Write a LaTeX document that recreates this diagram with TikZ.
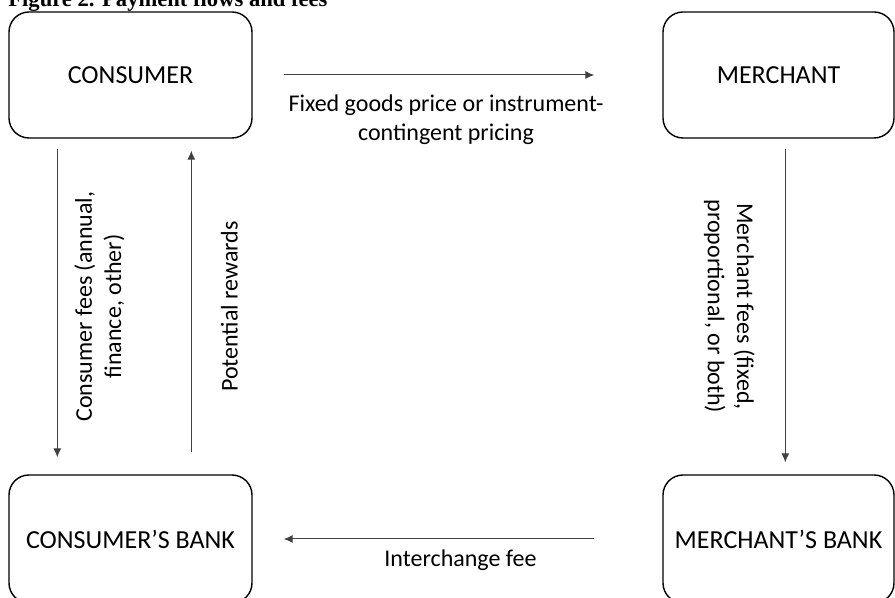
\documentclass[tikz,border=0pt]{standalone}
\usepackage{fontspec}
\setmainfont{Carlito}
\newfontfamily\titlefont{Liberation Serif}
\usepackage{tikz}
\usetikzlibrary{positioning}
\usetikzlibrary{arrows.meta}

\begin{document}
\begin{tikzpicture}
                    [
                    x=0.5pt, y=-0.5pt,
                    party/.style={shape = rectangle, draw, rounded corners=10pt, line width=0.7pt, inner sep=0pt, font=\fontsize{13}{15}\selectfont},
                    flow/.style={-{Latex[length=4.5pt,width=4pt]}, draw=black!75, line width=0.5pt},
                    lbl/.style={align=center, inner sep=0pt, font=\fontsize{12}{14.6}\selectfont},
                    ]
                    \useasboundingbox (0,0) rectangle (895,598);
                    % % 标题
                    \node[anchor=base west, inner sep=0pt, font=\titlefont\bfseries\fontsize{11.3}{13}\selectfont] (title) at (8,7) {Figure 2. Payment flows and fees};
                    %
                    \node[party, minimum width=121.5pt, minimum height=63pt] (consumer) at (130.5,75) {CONSUMER};
                    \node[party, minimum width=115.5pt, minimum height=63pt] (merchant) at (778.5,75) {MERCHANT};
                    \node[party, minimum width=121.5pt, minimum height=64pt] (cbank) at (130.5,539) {CONSUMER’S BANK};
                    \node[party, minimum width=115.5pt, minimum height=64pt] (mbank) at (778.5,539) {MERCHANT’S BANK};
                    %
                    \path
                        (consumer.east) edge[flow, shorten <=15.5pt, shorten >=34pt]
                            node[lbl, midway, yshift=-22.5pt, xshift=-5.75pt] {Fixed goods price or instrument-\\contingent pricing} (merchant.west)
                        (mbank.west) edge[flow, shorten <=34pt, shorten >=15.5pt]
                            node[lbl, midway, yshift=-10.5pt, xshift=1.5pt] {Interchange fee} (cbank.east)

                        ([xshift=24.5pt]consumer.south west) edge[flow, shorten <=5pt, shorten >=8.5pt]
                            node[lbl, midway, xshift=21pt, rotate=90] {Consumer fees (annual,\\finance, other)} ([xshift=24.5pt]cbank.north west)
                        ([xshift=91.5pt]cbank.north west) edge[flow, shorten <=11pt, shorten >=6pt]
                            node[lbl, midway, xshift=19pt, rotate=90] {Potential rewards} ([xshift=91.5pt]consumer.south west)
                        ([xshift=61.5pt]merchant.south west) edge[flow, shorten <=5pt, shorten >=6pt]
                            node[lbl, midway, xshift=-28pt, rotate=-90] {Merchant fees (fixed,\\proportional, or both)} ([xshift=61.5pt]mbank.north west)
                    ;
                \end{tikzpicture}
\end{document}
